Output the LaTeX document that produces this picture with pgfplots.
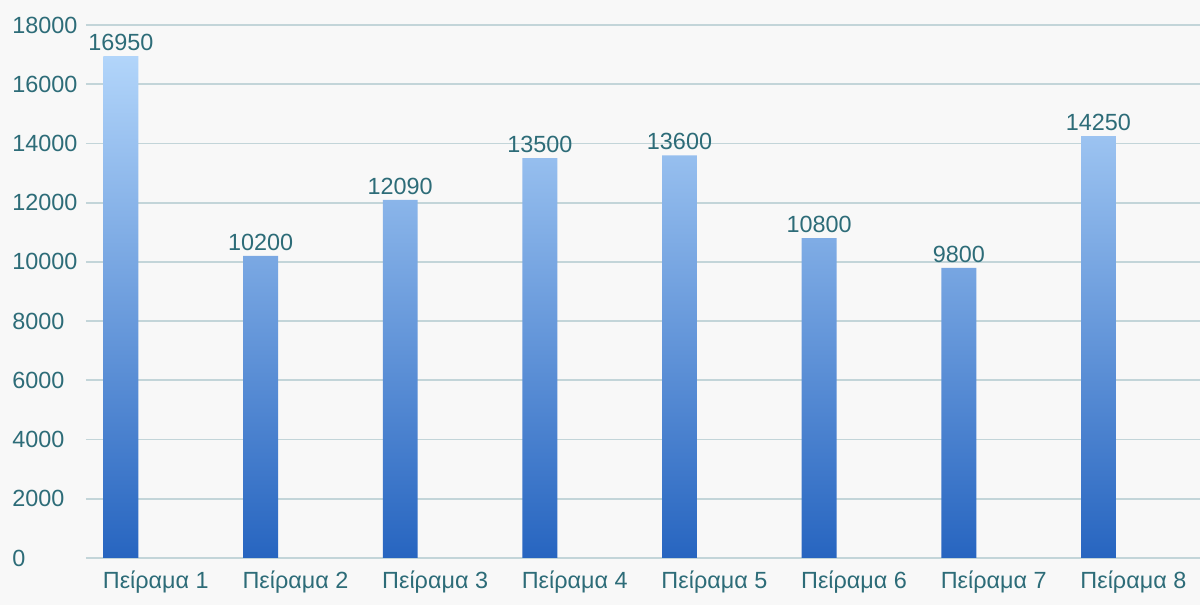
\documentclass[border=0pt]{standalone}
\usepackage{fontspec}
\setmainfont{Liberation Sans}
\usepackage{pgfplots}
\pgfplotsset{compat=1.18}

\definecolor{bgcol}{HTML}{F8F8F8}
\definecolor{txtcol}{HTML}{2D6C78}
\definecolor{gridcol}{HTML}{C3D5D9}
\definecolor{bartop}{HTML}{B2D5FA}
\definecolor{barmid}{HTML}{62A2E2}
\definecolor{barbot}{HTML}{2765C0}

\begin{document}
\begin{tikzpicture}
\path[use as bounding box, fill=bgcol] (-43pt,-23.5pt) rectangle (557pt,279pt);
\begin{axis}[
  scale only axis,
  width=558.6pt, height=266.5pt,
  at={(0,0)}, anchor=south west,
  xmin=-0.5, xmax=7.5,
  ymin=0, ymax=18000,
  ytick={0,2000,...,18000},
  scaled y ticks=false,
  yticklabel={\pgfmathprintnumber[fixed,precision=0,1000 sep={}]{\tick}},
  xtick={0,...,7},
  xticklabels={Πείραμα 1,Πείραμα 2,Πείραμα 3,Πείραμα 4,Πείραμα 5,Πείραμα 6,Πείραμα 7,Πείραμα 8},
  axis line style={draw=none},
  major tick length=0pt,
  ymajorgrids,
  grid style={gridcol, line width=0.9pt},
  font=\fontsize{11.7}{13}\selectfont,
  tick label style={text=txtcol},
  /pgf/number format/assume math mode=true,
  yticklabel style={anchor=west, inner sep=0pt, xshift=-37pt},
  xticklabel style={anchor=north, inner sep=0pt, yshift=-6pt},
  clip=false,
]
\addplot[
  ybar, bar width=0.25, draw=none,
  top color=bartop, middle color=barmid, bottom color=barbot,
  nodes near coords,
  nodes near coords style={text=txtcol, anchor=south, inner sep=0pt, yshift=2.5pt,
    /pgf/number format/1000 sep={}, /pgf/number format/fixed},
] coordinates {
  (-0.25,16950) (0.75,10200) (1.75,12090) (2.75,13500)
  (3.75,13600) (4.75,10800) (5.75,9800) (6.75,14250)
};
\end{axis}
\end{tikzpicture}
\end{document}
